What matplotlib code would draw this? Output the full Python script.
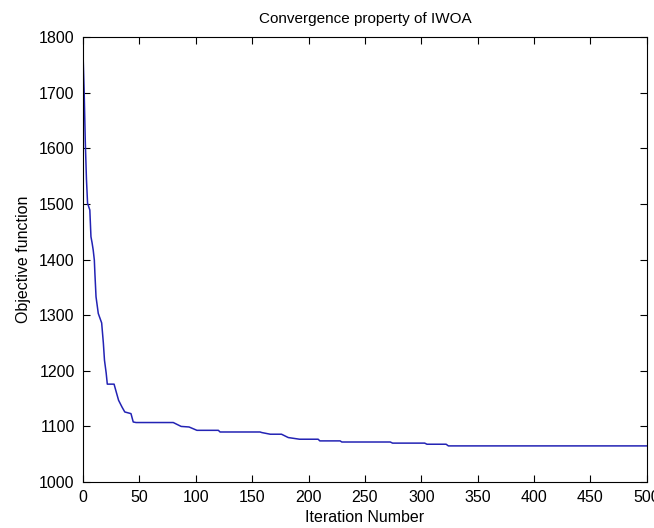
import matplotlib
matplotlib.use('Agg')
import matplotlib.pyplot as plt

# best-so-far objective value at breakpoints of the convergence curve
iterations = [0, 1, 2, 3, 4, 5, 6, 7, 8, 9, 10, 10.5, 11.5, 13.5, 16.5, 18, 19,
              20.5, 21.5, 27.5, 29, 31.5, 34.5, 37, 42.5, 44.5, 47, 80, 87,
              94, 101, 120, 121.5, 157, 158.5, 166, 176, 182, 192, 208.5, 210,
              228, 229.5, 272.5, 274.5, 303, 305, 322, 324, 500]
objective = [1768, 1700, 1610, 1545, 1501, 1495, 1489, 1441, 1430, 1417, 1399, 1375,
             1333, 1303, 1286, 1250, 1219, 1196, 1176, 1176, 1165, 1147, 1135, 1126,
             1123, 1108, 1107, 1107, 1100, 1099, 1093, 1093, 1090, 1090, 1089, 1086,
             1086, 1080, 1077, 1077, 1074, 1074, 1072, 1072, 1070, 1070, 1068, 1068,
             1065, 1065]

x_ticks = list(range(0, 501, 50))
y_ticks = list(range(1000, 1801, 100))

plt.rcParams['font.family'] = ['Liberation Sans', 'DejaVu Sans']
plt.rcParams['font.size'] = 11.5

fig = plt.figure(figsize=(6.54, 5.28), dpi=100)
ax = fig.add_axes([0.127, 0.087, 0.862, 0.843])
ax.plot(iterations, objective, color='#2323b4', linewidth=1.1)

ax.set_xlim(0, 500)
ax.set_ylim(1000, 1800)
ax.set_xticks(x_ticks)
ax.set_yticks(y_ticks)
ax.tick_params(direction='in', top=True, right=True, length=5, width=0.8, pad=6)
for s in ax.spines.values():
    s.set_linewidth(0.8)

ax.set_title('Convergence property of IWOA', fontsize=11, pad=10)
ax.set_xlabel('Iteration Number', labelpad=3)
ax.set_ylabel('Objective function', labelpad=6)

fig.savefig('out.png', dpi=100)
